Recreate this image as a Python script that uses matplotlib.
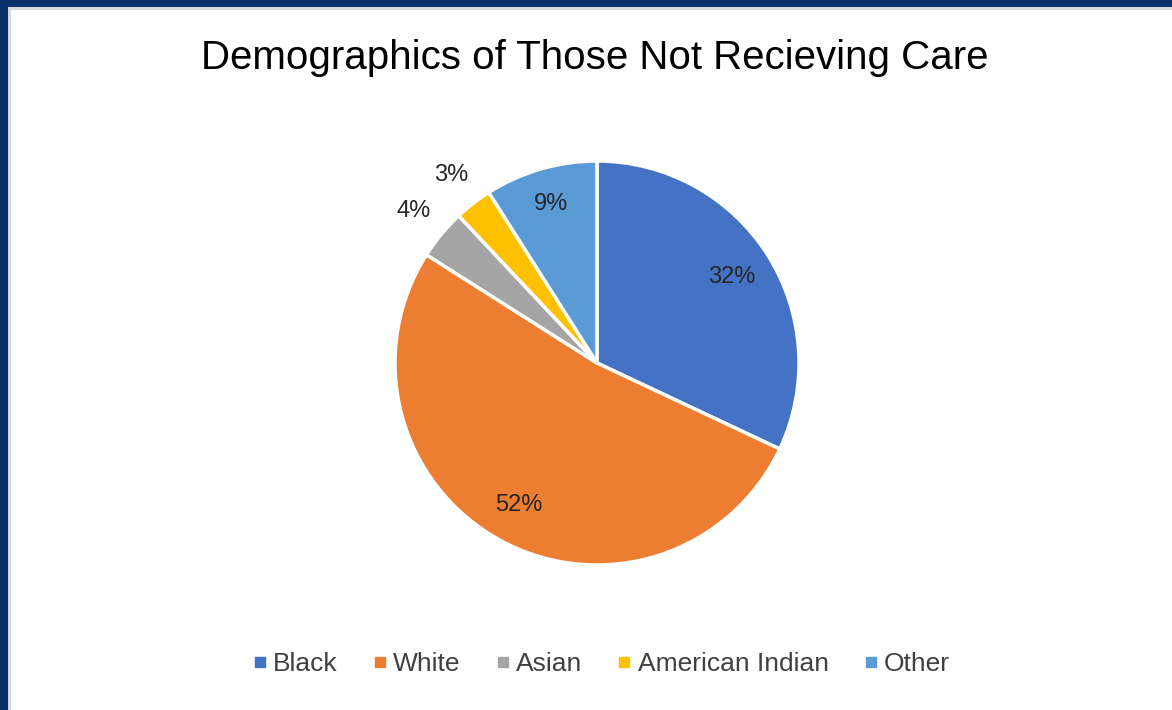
import numpy as np
import matplotlib
matplotlib.use("Agg")
import matplotlib.pyplot as plt
from matplotlib.patches import Rectangle
from matplotlib.lines import Line2D

# share of people not receiving care, by group
groups = ["Black", "White", "Asian", "American Indian", "Other"]
shares = [32, 52, 4, 3, 9]
colors = ["#4472C4", "#ED7D31", "#A5A5A5", "#FFC000", "#5B9BD5"]
label_radius = [0.79, 0.80, 1.18, 1.18, 0.82]

W, H = 1172, 710
fig = plt.figure(figsize=(W / 100, H / 100), dpi=100)
fig.patch.set_facecolor("white")

# frame: navy strip top and left with a thin grey line inside
fig.add_artist(Rectangle((0, 1 - 7 / H), 1, 7 / H, transform=fig.transFigure,
                         color="#0A3169", lw=0, zorder=5))
fig.add_artist(Rectangle((0, 0), 8 / W, 1, transform=fig.transFigure,
                         color="#0A3169", lw=0, zorder=5))
fig.add_artist(Rectangle((8 / W, 1 - 10 / H), 1, 3 / H, transform=fig.transFigure,
                         color="#D9D9D9", lw=0, zorder=4))
fig.add_artist(Rectangle((8 / W, 0), 3 / W, 1 - 7 / H, transform=fig.transFigure,
                         color="#D9D9D9", lw=0, zorder=4))

cx, cy, r = 597, 363, 202
ax = fig.add_axes([(cx - r) / W, 1 - (cy + r) / H, 2 * r / W, 2 * r / H])
wedges, _ = ax.pie(shares, colors=colors, startangle=90, counterclock=False,
                   wedgeprops=dict(edgecolor="white", linewidth=2.5), radius=1)
ax.set_xlim(-1, 1)
ax.set_ylim(-1, 1)
ax.set_aspect("equal")
ax.axis("off")

for w, v, lr in zip(wedges, shares, label_radius):
    mid = np.deg2rad((w.theta1 + w.theta2) / 2)
    ax.text(lr * np.cos(mid), lr * np.sin(mid), f"{v}%", ha="center", va="center",
            fontsize=17, color="#262626", family="Liberation Sans")

fig.text(595 / W, 1 - 58 / H, "Demographics of Those Not Recieving Care",
         ha="center", va="center", fontsize=29, color="#000000",
         family="Liberation Sans")

handles = [Line2D([], [], marker="s", ls="", markersize=7, color=c) for c in colors]
fig.legend(handles, groups, loc="center", bbox_to_anchor=(601 / W, 1 - 664 / H),
           ncol=5, frameon=False, handletextpad=0.2, columnspacing=1.3,
           prop=dict(family="Liberation Sans", size=19), labelcolor="#404040",
           handlelength=0.6)

fig.savefig("out.png", dpi=100, facecolor="white")
